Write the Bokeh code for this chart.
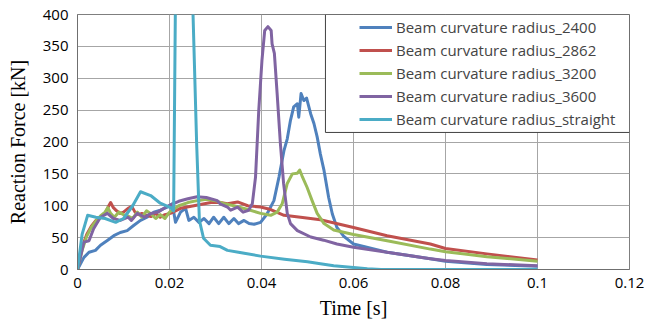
from bokeh.plotting import figure
from bokeh.models import (Range1d, FixedTicker, Legend, LegendItem, BoxAnnotation)
from bokeh.embed import file_html
from bokeh.resources import INLINE

# ---------------- data ----------------
X_TICKS = [0, 0.02, 0.04, 0.06, 0.08, 0.1, 0.12]
X_TICK_LABELS = ["0", "0.02", "0.04", "0.06", "0.08", "0.1", "0.12"]
Y_TICKS = [0, 50, 100, 150, 200, 250, 300, 350, 400]

SERIES_NAMES = ["Beam curvature radius_2400", "Beam curvature radius_2862",
                "Beam curvature radius_3200", "Beam curvature radius_3600",
                "Beam curvature radius_straight"]

t_2400 = [0, 0.0014, 0.0025, 0.0039, 0.005, 0.0064, 0.0079, 0.0093, 0.0108, 0.0122,
          0.0137, 0.0151, 0.0166, 0.018, 0.0195, 0.0206, 0.0213, 0.0224, 0.0235, 0.0242,
          0.0253, 0.0264, 0.0275, 0.0286, 0.0296, 0.0307, 0.0318, 0.0329, 0.034, 0.035,
          0.0362, 0.0373, 0.0384, 0.0398, 0.0412, 0.0427, 0.0438, 0.0449, 0.0456, 0.0463,
          0.047, 0.0478, 0.0481, 0.0486, 0.0492, 0.0498, 0.0507, 0.0514, 0.0521, 0.0528,
          0.0536, 0.0546, 0.0554, 0.0564, 0.0579, 0.06, 0.0673, 0.0767, 0.08, 0.089, 0.1]
f_2400 = [0, 19, 27, 30, 38, 45, 53, 58, 61, 69,
          77, 82, 90, 93, 98, 103, 74, 90, 96, 77,
          82, 74, 80, 72, 82, 72, 82, 72, 80, 72,
          77, 72, 71, 74, 87, 108, 145, 187, 205, 234,
          255, 260, 239, 276, 265, 269, 244, 229, 208, 181,
          155, 113, 87, 66, 52, 40, 27, 17, 13, 8, 5]

t_2862 = [0, 0.001, 0.002, 0.003, 0.004, 0.005, 0.006, 0.0068, 0.0072, 0.0078,
          0.0085, 0.0093, 0.010, 0.011, 0.0118, 0.0125, 0.0132, 0.014, 0.015, 0.016,
          0.017, 0.018, 0.019, 0.0202, 0.0224, 0.0253, 0.029, 0.031, 0.0326, 0.0348,
          0.037, 0.0398, 0.042, 0.0449, 0.0485, 0.0528, 0.06, 0.0673, 0.0767, 0.08,
          0.089, 0.1]
f_2862 = [0, 35, 55, 68, 77, 83, 88, 100, 105, 97,
          92, 88, 90, 96, 99, 90, 86, 88, 85, 83,
          88, 82, 86, 88, 96, 100, 105, 105, 103, 106,
          100, 98, 94, 85, 82, 78, 66, 53, 40, 33,
          24.5, 15]

t_3200 = [0, 0.001, 0.002, 0.003, 0.004, 0.005, 0.006, 0.0066, 0.0072, 0.008,
          0.009, 0.010, 0.011, 0.012, 0.013, 0.014, 0.015, 0.016, 0.017, 0.018,
          0.019, 0.020, 0.021, 0.022, 0.024, 0.026, 0.028, 0.030, 0.032, 0.034,
          0.036, 0.0376, 0.0398, 0.042, 0.0434, 0.0445, 0.0456, 0.0467, 0.0478, 0.0483,
          0.0488, 0.0499, 0.051, 0.0521, 0.0536, 0.0557, 0.06, 0.0673, 0.0767, 0.08,
          0.089, 0.1]
f_3200 = [0, 30, 52, 66, 76, 84, 90, 97, 88, 82,
          90, 86, 84, 80, 90, 82, 92, 87, 80, 86,
          80, 90, 95, 100, 105, 108, 110, 108, 103, 100,
          96, 93, 88, 85, 90, 103, 135, 150, 151, 156,
          147, 129, 108, 88, 72, 62, 55, 45, 32, 28,
          20, 13]

t_3600 = [0, 0.0014, 0.0025, 0.0035, 0.005, 0.0065, 0.0078, 0.0093, 0.011, 0.0117,
          0.013, 0.0146, 0.016, 0.0175, 0.019, 0.0205, 0.022, 0.024, 0.026, 0.028,
          0.0304, 0.031, 0.0326, 0.0333, 0.0348, 0.036, 0.0372, 0.038, 0.0387, 0.0394,
          0.0401, 0.0407, 0.0414, 0.0421, 0.0423, 0.0428, 0.0434, 0.0441, 0.0448, 0.0456,
          0.0463, 0.0478, 0.0507, 0.0535, 0.0564, 0.06, 0.0673, 0.0767, 0.08, 0.089, 0.1]
f_3600 = [0, 43, 45, 64, 82, 88, 80, 77, 82, 77,
          88, 82, 88, 90, 97, 102, 107, 111, 114, 113,
          108, 103, 98, 93, 98, 90, 93, 103, 145, 249,
          328, 375, 381, 375, 354, 339, 276, 198, 135, 88,
          72, 61, 51, 46, 40, 35, 27, 17, 14, 9, 6]

t_straight = [0, 0.001, 0.0022, 0.004, 0.006, 0.0083, 0.010, 0.012, 0.0137, 0.0159,
              0.018, 0.0202, 0.0209, 0.0213, 0.0230, 0.0250, 0.0259, 0.0265, 0.0274, 0.0289,
              0.031, 0.0326, 0.035, 0.0398, 0.045, 0.05, 0.0528, 0.0557, 0.06, 0.063,
              0.066, 0.1]
f_straight = [0, 55, 85, 82, 80, 74, 80, 100, 122, 116,
              104, 97, 92, 430, 1000, 430, 198, 77, 49, 38,
              36, 30, 27, 21, 16, 12, 9, 6, 3, 1,
              0, 0]

COLORS = ["#4F81BD", "#C0504D", "#9BBB59", "#8064A2", "#4BACC6"]

# ---------------- figure ----------------
p = figure(width=646, height=324, output_backend="svg", toolbar_location=None,
           x_range=Range1d(0, 0.12), y_range=Range1d(0, 400),
           min_border_left=77, min_border_right=17, min_border_top=14, min_border_bottom=55)
p.background_fill_color = "white"
p.border_fill_color = "white"
p.outline_line_color = "#7F7F7F"
p.outline_line_width = 1

tick_font = "Open Sans"
for ax in (p.xaxis[0], p.yaxis[0]):
    ax.major_label_text_font = tick_font
    ax.major_label_text_font_size = "15px"
    ax.major_label_text_color = "#000000"
    ax.major_tick_line_color = None
    ax.minor_tick_line_color = None
    ax.major_tick_out = 0
    ax.major_tick_in = 0
    ax.axis_line_color = "#6F6F6F"
    ax.axis_label_text_font = "Liberation Serif"
    ax.axis_label_text_font_size = "20px"
    ax.axis_label_text_font_style = "normal"
    ax.axis_label_text_color = "#000000"

p.xaxis[0].ticker = FixedTicker(ticks=X_TICKS)
p.xaxis[0].major_label_overrides = {x: l for x, l in zip(X_TICKS, X_TICK_LABELS)}
p.yaxis[0].ticker = FixedTicker(ticks=Y_TICKS)
p.xaxis[0].axis_label = "Time [s]"
p.yaxis[0].axis_label = "Reaction Force [kN]"
p.xaxis[0].major_label_standoff = 8
p.yaxis[0].major_label_standoff = 9
p.xaxis[0].axis_label_standoff = 6
p.yaxis[0].axis_label_standoff = 11

p.xgrid.grid_line_color = "#A6A6A6"
p.ygrid.grid_line_color = "#A6A6A6"
p.xgrid.grid_line_width = 1
p.ygrid.grid_line_width = 1

series = [(t_2400, f_2400), (t_2862, f_2862), (t_3200, f_3200),
          (t_3600, f_3600), (t_straight, f_straight)]
renderers = []
for (t, f), c in zip(series, COLORS):
    r = p.line(t, f, line_color=c, line_width=3, line_join="round")
    renderers.append(r)

# legend frame (drawn as a box, legend itself transparent)
LEG_LEFT, LEG_RIGHT, LEG_TOP, LEG_BOTTOM = 0.0539, 0.12, 400, 215
box = BoxAnnotation(left=LEG_LEFT, right=LEG_RIGHT, top=LEG_TOP, bottom=LEG_BOTTOM,
                    fill_color="white", fill_alpha=1.0,
                    line_color="#404040", line_width=1, line_alpha=1.0)
p.add_layout(box)

legend = Legend(items=[LegendItem(label=n, renderers=[r]) for n, r in zip(SERIES_NAMES, renderers)],
                location=(282, 140), padding=0, margin=0, spacing=3,
                glyph_width=33, glyph_height=20, label_height=20, label_standoff=4,
                label_text_font=tick_font, label_text_font_size="15px",
                border_line_alpha=0, background_fill_alpha=0)
p.add_layout(legend, "center")

open("out.html", "w").write(file_html(p, INLINE))
